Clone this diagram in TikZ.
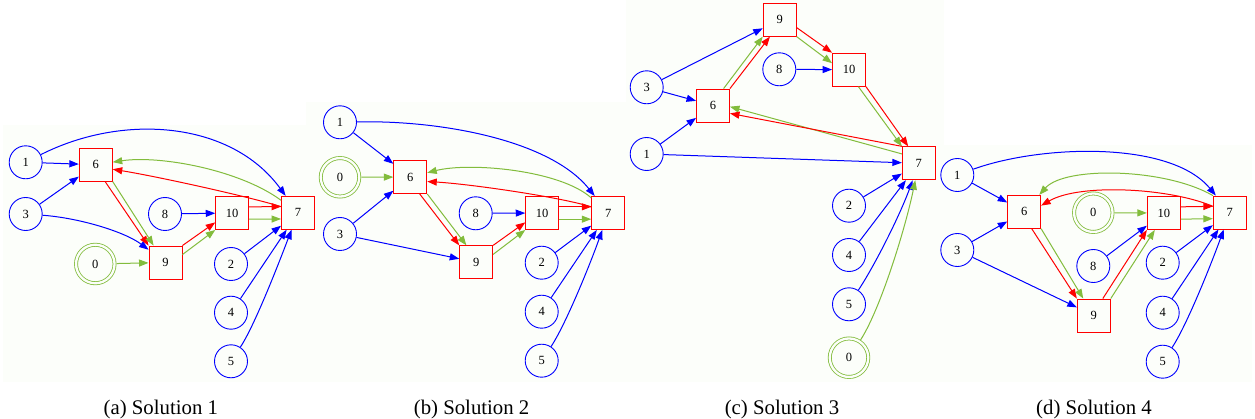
\documentclass[tikz,border=0pt]{standalone}
\usepackage{fontspec}
\setmainfont{Liberation Serif}
\usetikzlibrary{arrows.meta}
\definecolor{gbg}{RGB}{252,254,250}
\definecolor{ygreen}{RGB}{130,188,60}
\definecolor{ered}{RGB}{255,0,0}
\definecolor{eblue}{RGB}{0,0,255}
\newcommand\nodefnt{\fontsize{12.5}{14}\selectfont}
\begin{document}
\begin{tikzpicture}[x=1pt,y=-1pt,
  cnode/.style={circle,draw=eblue,line width=0.9pt,minimum size=33pt,inner sep=0pt,font=\nodefnt},
  bnode/.style={rectangle,draw=ered,line width=0.9pt,minimum size=33pt,inner sep=0pt,font=\nodefnt},
  snode/.style={circle,draw=ygreen,double=gbg,double distance=2.3pt,line width=0.8pt,minimum size=38.5pt,inner sep=0pt,outer sep=2pt,font=\nodefnt},
  tipd/.style={-{Triangle[length=9.5pt,width=7pt]}},
  bl/.style={draw=eblue,line width=1pt,tipd},
  rd/.style={draw=ered,line width=1pt,tipd},
  gr/.style={draw=ygreen,line width=1pt,tipd},
  captxt/.style={font=\fontsize{20.8}{24}\selectfont,anchor=base,inner sep=0pt}
]
\useasboundingbox (0,0) rectangle (1255,419);
\fill[white] (0,0) rectangle (1255,419);
% panel backgrounds
\fill[gbg] (3,125) rectangle (318,382);
\fill[gbg] (306,102) rectangle (632,382);
\fill[gbg] (626,0) rectangle (944,382);
\fill[gbg] (938,145) rectangle (1252,382);

% ---------- (a) ----------
\node[cnode] (a1) at (25.7,162.3) {1};
\node[bnode] (a6) at (95.8,164.7) {6};
\node[cnode] (a3) at (25.7,214) {3};
\node[cnode] (a8) at (165,214) {8};
\node[bnode] (a10) at (232.2,213) {10};
\node[bnode] (a7) at (298,212.8) {7};
\node[snode] (a0) at (95.3,264) {0};
\node[bnode] (a9) at (165.5,262.5) {9};
\node[cnode] (a2) at (231,264) {2};
\node[cnode] (a4) at (231,312.7) {4};
\node[cnode] (a5) at (231,361.3) {5};
\draw[bl] (a1) -- (a6);
\draw[bl] (a1) .. controls (123,113) and (231,121) .. (a7);
\draw[bl] (a3) -- (a6);
\draw[bl] (a3) .. controls (80,218) and (125,232) .. (a9);
\draw[rd] (a6.-61) -- (a9.north west);
\draw[gr] (a6.south east) -- (a9.125);
\draw[gr] (a7) .. controls (240,170) and (160,155) .. (a6);
\draw[rd] (a7.160) .. controls (250,197) and (160,177) .. (a6.-15);
\draw[gr] (a0) -- (a9);
\draw[rd] (a9.north east) -- (a10.209);
\draw[gr] (a9.25) -- (a10.south west);
\draw[bl] (a8) -- (a10);
\draw[rd] (a10.20) -- (a7.160);
\draw[gr] (a10.-20) -- (a7.200);
\draw[bl] (a2) -- (a7);
\draw[bl] (a4) -- (a7);
\draw[bl] (a5) .. controls (255,325) and (280,260) .. (a7);

% ---------- (b) ----------
\node[cnode] (b1) at (340,122.3) {1};
\node[snode] (b0) at (340,177.3) {0};
\node[cnode] (b3) at (340,234) {3};
\node[bnode] (b6) at (410.3,177) {6};
\node[cnode] (b8) at (475.7,213.3) {8};
\node[bnode] (b10) at (542.2,213) {10};
\node[bnode] (b7) at (608.2,213) {7};
\node[bnode] (b9) at (476.2,262.3) {9};
\node[cnode] (b2) at (541.7,262.7) {2};
\node[cnode] (b4) at (541.7,311.7) {4};
\node[cnode] (b5) at (541.7,360.7) {5};
\draw[bl] (b1) -- (b6);
\draw[bl] (b1) .. controls (440,120) and (550,140) .. (b7);
\draw[gr] (b0) -- (b6);
\draw[bl] (b3) -- (b6);
\draw[bl] (b3) -- (b9);
\draw[rd] (b6.-61) -- (b9.north west);
\draw[gr] (b6.south east) -- (b9.120);
\draw[gr] (b7) .. controls (560,170) and (470,162) .. (b6);
\draw[rd] (b7.160) .. controls (560,197) and (470,184) .. (b6.-15);
\draw[bl] (b8) -- (b10);
\draw[rd] (b9.north east) -- (b10.209);
\draw[gr] (b9.25) -- (b10.south west);
\draw[rd] (b10.20) -- (b7.160);
\draw[gr] (b10.-20) -- (b7.200);
\draw[bl] (b2) -- (b7);
\draw[bl] (b4) -- (b7);
\draw[bl] (b5) .. controls (566,324) and (591,262) .. (b7);

% ---------- (c) ----------
\node[bnode] (c9) at (779.7,19.7) {9};
\node[cnode] (c8) at (779.3,69.3) {8};
\node[bnode] (c10) at (849,69.7) {10};
\node[cnode] (c3) at (646.7,87.3) {3};
\node[bnode] (c6) at (713,105.5) {6};
\node[cnode] (c1) at (646.7,154) {1};
\node[bnode] (c7) at (918.8,163.3) {7};
\node[cnode] (c2) at (849,205.7) {2};
\node[cnode] (c4) at (849,255) {4};
\node[cnode] (c5) at (849,304.3) {5};
\node[snode] (c0) at (849,357.7) {0};
\draw[bl] (c3) -- (c9);
\draw[bl] (c3) -- (c6);
\draw[bl] (c1) -- (c6);
\draw[bl] (c1) -- (c7);
\draw[gr] (c6.58) -- (c9.south west);
\draw[rd] (c6.north east) -- (c9.240);
\draw[rd] (c9.-25) -- (c10.north west);
\draw[gr] (c9.south east) -- (c10.159);
\draw[bl] (c8) -- (c10);
\draw[gr] (c10.-61) -- (c7.north west);
\draw[rd] (c10.south east) -- (c7.122);
\draw[gr] (c7.151) -- (c6.-4);
\draw[rd] (c7.north west) -- (c6.-25);
\draw[bl] (c2) -- (c7);
\draw[bl] (c4) -- (c7);
\draw[bl] (c5) .. controls (875,265) and (900,215) .. (c7);
\draw[gr] (c0) .. controls (880,310) and (905,230) .. (c7);

% ---------- (d) ----------
\node[cnode] (d1) at (957.3,175) {1};
\node[cnode] (d3) at (957.3,250) {3};
\node[bnode] (d6) at (1024.2,211.8) {6};
\node[snode] (d0) at (1093.3,212.7) {0};
\node[bnode] (d10) at (1163.8,213) {10};
\node[bnode] (d7) at (1229.8,212.5) {7};
\node[cnode] (d8) at (1093.3,266) {8};
\node[cnode] (d2) at (1162.7,262.7) {2};
\node[cnode] (d4) at (1162.7,312.7) {4};
\node[cnode] (d5) at (1162.7,361.7) {5};
\node[bnode] (d9) at (1093.8,315.5) {9};
\draw[bl] (d1) -- (d6);
\draw[bl] (d1) .. controls (1040,145) and (1170,140) .. (d7);
\draw[bl] (d3) -- (d6);
\draw[bl] (d3) -- (d9);
\draw[gr] (d7.north west) .. controls (1165,168) and (1065,166) .. (d6);
\draw[rd] (d7.160) .. controls (1170,188) and (1080,183) .. (d6.20);
\draw[gr] (d0) -- (d10);
\draw[bl] (d8) -- (d10);
\draw[rd] (d6.-66) -- (d9.north west);
\draw[gr] (d6.south east) -- (d9.122);
\draw[rd] (d9.62) -- (d10.south west);
\draw[gr] (d9.north east) -- (d10.242);
\draw[rd] (d10.20) -- (d7.160);
\draw[gr] (d10.-20) -- (d7.200);
\draw[bl] (d2) -- (d7);
\draw[bl] (d4) -- (d7);
\draw[bl] (d5) .. controls (1187,325) and (1212,262) .. (d7);

% captions
\node[captxt] (capa) at (160.8,414) {(a) Solution 1};
\node[captxt] (capb) at (471.6,414) {(b) Solution 2};
\node[captxt] (capc) at (782,414) {(c) Solution 3};
\node[captxt] (capd) at (1094,414) {(d) Solution 4};
\end{tikzpicture}
\end{document}
